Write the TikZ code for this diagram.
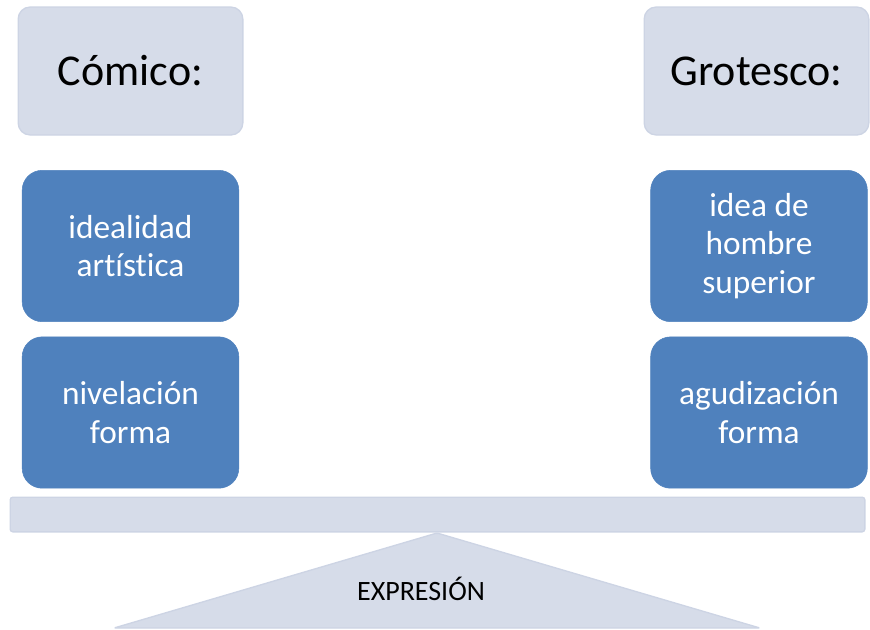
\documentclass[tikz,border=0pt]{standalone}
\usepackage{fontspec}
\setmainfont[Ligatures=NoCommon]{Carlito}
\usetikzlibrary{positioning}
\definecolor{gris}{RGB}{214,220,233}
\definecolor{grisborde}{RGB}{205,212,228}
\definecolor{azul}{RGB}{79,129,189}
\tikzset{
    titulo/.style={rectangle, rounded corners=9pt, fill=gris, draw=grisborde, line width=1pt,
        minimum width=168.5pt, minimum height=96pt, font=\fontsize{33}{39}\selectfont},
    rasgo/.style={rectangle, rounded corners=15pt, fill=azul, draw=azul, text=white,
        minimum width=162.5pt, minimum height=113.5pt, align=center,
        font=\fontsize{25}{29}\selectfont},
    barra/.style={rectangle, rounded corners=2pt, fill=gris, draw=grisborde, line width=1pt,
        minimum width=641pt, minimum height=26pt}
}

\begin{document}
\begin{tikzpicture}[x=0.75pt, y=-0.75pt]
        \useasboundingbox (0,0) rectangle (870,629);
        % Encabezados
        \node[titulo] (comico) at (130.5,71) {Cómico:};
        \node[titulo] (grotesco) at (756.5,71) {Grotesco:};

        % Columna izquierda
        \node[rasgo] (ideal) at (130.5,246) {idealidad\\artística};
        \node[rasgo, below=11pt of ideal.south, anchor=north] (nivel) {nivelación\\forma};

        % Columna derecha
        \node[rasgo] (idea) at (759,246) {idea de\\hombre\\superior};
        \node[rasgo, below=11pt of idea.south, anchor=north] (agud) {agudización\\forma};

        % Balanza
        \node[barra] (barra) at (437.5,514.5) {};
        \coordinate (cima) at (437,533);
        \coordinate (izq) at (114,628);
        \coordinate (der) at (760,628);
        \filldraw[fill=gris, draw=grisborde, line width=1pt, rounded corners=1pt]
            (cima) -- (der) -- (izq) -- cycle;
        \node[font=\fontsize{21}{25}\selectfont] (expr) at (421,589) {EXPRESIÓN};
    \end{tikzpicture}
\end{document}
